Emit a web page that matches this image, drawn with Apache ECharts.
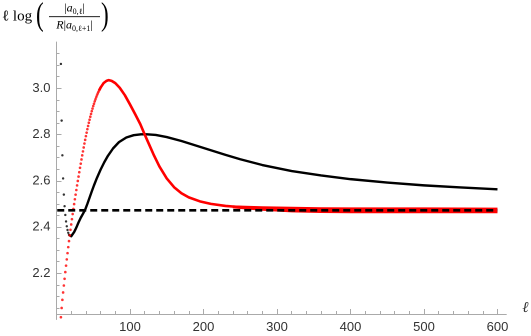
<!DOCTYPE html>
<html>
<head>
<meta charset="utf-8">
<script src="https://cdn.jsdelivr.net/npm/echarts@6/dist/echarts.min.js"></script>
<style>html,body{margin:0;padding:0;background:#fff}#c{width:531px;height:336px}</style>
</head>
<body>
<div id="c"></div>
<script>
// ---- data ----
const xTicks = [100, 200, 300, 400, 500, 600];
const yTicks = [2.2, 2.4, 2.6, 2.8, 3.0];

const blackDotL = [6, 7, 8, 9, 10, 11, 12, 13, 14, 15, 16, 17];
const blackDotV = [3.105, 2.86, 2.71, 2.61, 2.54, 2.49, 2.452, 2.424, 2.403, 2.387, 2.375, 2.366];

const blackL = [17, 18, 19, 20, 22, 24, 26, 28, 30, 33, 36, 39, 42, 45, 48, 51, 55, 60, 65, 70, 77, 85, 95, 105, 115, 123, 135, 150, 170, 190, 210, 230, 250, 280, 320, 360, 400, 450, 500, 550, 600];
const blackV = [2.366, 2.361, 2.359, 2.36, 2.366, 2.378, 2.391, 2.405, 2.42, 2.44, 2.457, 2.475, 2.5, 2.527, 2.554, 2.58, 2.612, 2.648, 2.68, 2.708, 2.74, 2.767, 2.787, 2.797, 2.801, 2.801, 2.798, 2.789, 2.772, 2.752, 2.732, 2.712, 2.693, 2.668, 2.642, 2.623, 2.607, 2.592, 2.58, 2.571, 2.563];

const redDotL = [6, 7, 8, 9, 10, 11, 12, 13, 14, 15, 16, 17, 18, 19, 20, 21, 22, 23, 24, 25, 26, 27, 28, 29, 30, 31, 32, 33, 34, 35, 36, 37, 38, 39, 40, 41, 42, 43, 44, 45, 46, 47, 48, 49, 50, 51, 52, 53, 54, 55, 56, 57, 58, 59, 60];
const redDotV = [2.010, 2.050, 2.085, 2.117, 2.147, 2.176, 2.205, 2.233, 2.260, 2.287, 2.313, 2.339, 2.364, 2.388, 2.411, 2.434, 2.456, 2.478, 2.499, 2.520, 2.540, 2.560, 2.580, 2.599, 2.618, 2.637, 2.656, 2.674, 2.692, 2.710, 2.727, 2.744, 2.761, 2.777, 2.793, 2.808, 2.823, 2.837, 2.851, 2.864, 2.877, 2.889, 2.901, 2.912, 2.923, 2.933, 2.943, 2.952, 2.961, 2.969, 2.977, 2.984, 2.991, 2.997, 3.003];

const redL = [58, 60, 64, 68, 71, 75, 80, 86, 93, 100, 107, 114, 120, 126, 132, 140, 150, 160, 170, 180, 195, 210, 230, 250, 275, 300, 350, 400, 500, 600];
const redV = [2.991, 3.003, 3.022, 3.032, 3.035, 3.032, 3.022, 3.002, 2.97, 2.93, 2.888, 2.845, 2.80, 2.757, 2.714, 2.662, 2.61, 2.572, 2.546, 2.528, 2.511, 2.5, 2.491, 2.486, 2.481, 2.478, 2.475, 2.474, 2.473, 2.472];

// the oscillating red tail: its lower and upper branches
const bandL = [240, 280, 320, 360, 400, 500, 600];
const bandLowV = [2.486, 2.476, 2.469, 2.466, 2.465, 2.465, 2.465];
const bandHighV = [2.488, 2.484, 2.482, 2.480, 2.479, 2.479, 2.478];

const dashL = [1, 600];
const dashV = [2.472, 2.472];

const zip = (a, b) => a.map((v, i) => [v, b[i]]);

const AX = '#aaaaaa';
const LBL = '#333333';

const redLine = (data, width) => ({type: 'line', data, smooth: false, showSymbol: false, symbol: 'none',
  lineStyle: {color: '#ff0000', width, join: 'round'}, z: 3});

const chart = echarts.init(document.getElementById('c'), null, {renderer: 'canvas', devicePixelRatio: 2});
chart.setOption({
  animation: false,
  backgroundColor: '#ffffff',
  grid: {left: 56.5, right: 24.7, top: 42, bottom: 16.5, containLabel: false, outerBoundsMode: 'none'},
  xAxis: {
    type: 'value', min: 0, max: 612, interval: 100, position: 'bottom', offset: -5.5,
    name: 'ℓ', nameLocation: 'end', nameGap: 16,
    nameTextStyle: {fontFamily: 'Liberation Serif', fontSize: 15, fontStyle: 'italic', color: LBL, verticalAlign: 'bottom', align: 'left', lineHeight: 12},
    axisLine: {onZero: false, lineStyle: {color: AX, width: 1}},
    axisTick: {inside: true, length: 5, lineStyle: {color: AX}, customValues: xTicks},
    minorTick: {show: true, splitNumber: 5, length: 3, lineStyle: {color: AX}},
    axisLabel: {customValues: xTicks, margin: 7, color: LBL, fontFamily: 'Liberation Sans', fontSize: 13},
    splitLine: {show: false}
  },
  yAxis: {
    type: 'value', min: 2.0, max: 3.2, interval: 0.2,
    axisLine: {onZero: false, lineStyle: {color: AX, width: 1}},
    axisTick: {inside: true, length: 5, lineStyle: {color: AX}, customValues: yTicks},
    minorTick: {show: true, splitNumber: 4, length: 3, lineStyle: {color: AX}},
    axisLabel: {customValues: yTicks, margin: 6, color: LBL, fontFamily: 'Liberation Sans', fontSize: 13,
      formatter: v => v.toFixed(1)},
    splitLine: {show: false}
  },
  series: [
    {type: 'line', data: zip(blackL, blackV), smooth: false, showSymbol: false, symbol: 'none',
      lineStyle: {color: '#000', width: 2.4, join: 'round'}, z: 2},
    {type: 'scatter', data: zip(blackDotL, blackDotV), symbolSize: 2.4, itemStyle: {color: '#000'}, z: 2},
    redLine(zip(bandL, bandLowV), 2.6),
    redLine(zip(bandL, bandHighV), 2.6),
    redLine(zip(redL, redV), 2.6),
    {type: 'scatter', data: zip(redDotL, redDotV), symbolSize: 2.6, itemStyle: {color: '#ff0000'}, z: 3},
    {type: 'line', data: zip(dashL, dashV), showSymbol: false, symbol: 'none',
      lineStyle: {color: '#000', width: 2.6, type: [7, 4]}, z: 4}
  ],
  graphic: [
    {type: 'text', x: 2, y: 24, style: {text: 'ℓ log', font: '15px "Liberation Serif"', fill: '#000', verticalAlign: 'bottom'}},
    {type: 'text', x: 36, y: 0, scaleX: 0.7, style: {text: '(', font: '33px "Liberation Serif"', fill: '#000', verticalAlign: 'top'}},
    {type: 'text', x: 74.5, y: 16, style: {
      text: '{m||}{i|a}{s|0,ℓ}{m||}', align: 'center', verticalAlign: 'bottom',
      rich: {
        m: {fontFamily: 'Liberation Serif', fontSize: 12, lineHeight: 15, verticalAlign: 'middle', fill: '#000'},
        i: {fontFamily: 'Liberation Serif', fontSize: 12, fontStyle: 'italic', lineHeight: 15, verticalAlign: 'middle', fill: '#000'},
        s: {fontFamily: 'Liberation Serif', fontSize: 8, lineHeight: 9, verticalAlign: 'bottom', fill: '#000'}
      }}},
    {type: 'line', shape: {x1: 49, y1: 16.7, x2: 100, y2: 16.7}, style: {stroke: '#000', lineWidth: 0.8}},
    {type: 'text', x: 74.5, y: 18, style: {
      text: '{i|R}{m||}{i|a}{s|0,ℓ+1}{m||}', align: 'center', verticalAlign: 'top',
      rich: {
        m: {fontFamily: 'Liberation Serif', fontSize: 12, lineHeight: 15, verticalAlign: 'middle', fill: '#000'},
        i: {fontFamily: 'Liberation Serif', fontSize: 12, fontStyle: 'italic', lineHeight: 15, verticalAlign: 'middle', fill: '#000'},
        s: {fontFamily: 'Liberation Serif', fontSize: 8, lineHeight: 9, verticalAlign: 'bottom', fill: '#000'}
      }}},
    {type: 'text', x: 101, y: 0, scaleX: 0.7, style: {text: ')', font: '33px "Liberation Serif"', fill: '#000', verticalAlign: 'top'}}
  ]
});
</script>
</body>
</html>
